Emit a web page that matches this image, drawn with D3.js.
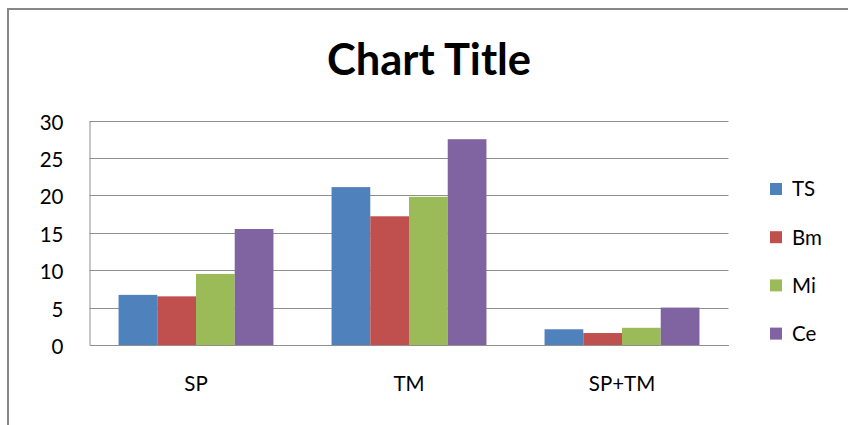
<!DOCTYPE html>
<html>
<head>
<meta charset="utf-8">
<script src="https://cdn.jsdelivr.net/npm/d3@7"></script>
<style>
  html, body { margin: 0; padding: 0; background: #fff; }
  svg { display: block; font-family: Lato, "Open Sans", sans-serif; }
</style>
</head>
<body>
<svg id="chart" width="848" height="425"></svg>
<script>
// Categories along the x axis
const categories = ["SP", "TM", "SP+TM"];
// Series names, in legend order
const seriesNames = ["TS", "Bm", "Mi", "Ce"];
// Values per series, one per category
const TS = [6.7, 21.1, 2.1];
const Bm = [6.5, 17.2, 1.6];
const Mi = [9.5, 19.8, 2.3];
const Ce = [15.5, 27.5, 5.0];
const seriesValues = [TS, Bm, Mi, Ce];
// Value axis ticks
const yTicks = [0, 5, 10, 15, 20, 25, 30];
const colors = ["#4F81BD", "#C0504D", "#9BBB59", "#8064A2"];
const title = "Chart Title";

const labelSize = 20.5;

const svg = d3.select("#chart");

// chart area frame (top and left edges visible)
svg.append("path")
  .attr("d", "M8,425 V9 H848")
  .attr("fill", "none")
  .attr("stroke", "#878787")
  .attr("stroke-width", 2);

const plot = { left: 89.5, right: 728.5, top: 120.5, bottom: 345 };

const x0 = d3.scaleBand()
  .domain(categories)
  .range([plot.left, plot.right])
  .paddingInner(0)
  .paddingOuter(0);

// 150% gap width: each category holds 4 bars + 1.5 bar widths of gap
const barW = x0.bandwidth() / (seriesNames.length + 1.5);
const x1 = d3.scaleBand()
  .domain(seriesNames)
  .range([barW * 0.75, barW * 0.75 + barW * seriesNames.length]);

const y = d3.scaleLinear().domain([0, 30]).range([plot.bottom, plot.top]);

// gridlines
svg.append("g")
  .selectAll("line")
  .data(yTicks.filter(t => t > 0))
  .join("line")
  .attr("x1", plot.left)
  .attr("x2", plot.right)
  .attr("y1", d => Math.round(y(d)) + 0.5)
  .attr("y2", d => Math.round(y(d)) + 0.5)
  .attr("stroke", "#8f8f8f")
  .attr("stroke-width", 1);

// y axis
const yAxis = svg.append("g")
  .attr("transform", `translate(${plot.left},0)`)
  .call(d3.axisLeft(y).tickValues(yTicks).tickSize(0).tickPadding(26));
yAxis.select(".domain").attr("stroke", "#8f8f8f").attr("stroke-width", 1);
yAxis.selectAll("text")
  .attr("font-size", labelSize)
  .attr("fill", "#000")
  .attr("dy", "0.42em")
  .attr("font-family", "Lato, sans-serif");

// bars
const groups = svg.append("g")
  .selectAll("g")
  .data(seriesNames.map((name, i) => ({ name, values: seriesValues[i], color: colors[i] })))
  .join("g")
  .attr("fill", d => d.color);

groups.selectAll("rect")
  .data(d => d.values.map((v, j) => ({ name: d.name, cat: categories[j], v })))
  .join("rect")
  .attr("x", d => x0(d.cat) + x1(d.name))
  .attr("width", x1.bandwidth())
  .attr("y", d => y(d.v))
  .attr("height", d => y(0) - y(d.v));

// x axis
const xAxis = svg.append("g")
  .attr("transform", `translate(0,${plot.bottom})`)
  .call(d3.axisBottom(x0).tickSize(0).tickPadding(31));
xAxis.select(".domain").attr("stroke", "#8f8f8f").attr("stroke-width", 1);
xAxis.selectAll("text")
  .attr("font-size", labelSize)
  .attr("fill", "#000")
  .attr("font-family", "Lato, sans-serif");

// title
svg.append("text")
  .attr("x", 429)
  .attr("y", 75)
  .attr("text-anchor", "middle")
  .attr("font-size", 43.5)
  .attr("font-weight", "bold")
  .attr("fill", "#000")
  .text(title);

// legend
const legend = svg.append("g").attr("transform", "translate(770,189)");
const item = legend.selectAll("g")
  .data(seriesNames)
  .join("g")
  .attr("transform", (d, i) => `translate(0,${i * 48.2})`);
item.append("rect")
  .attr("x", 0)
  .attr("y", -6)
  .attr("width", 12)
  .attr("height", 12)
  .attr("fill", (d, i) => colors[i]);
item.append("text")
  .attr("x", 22)
  .attr("y", 0)
  .attr("dy", "0.36em")
  .attr("font-size", labelSize)
  .attr("fill", "#000")
  .text(d => d);
</script>
</body>
</html>
